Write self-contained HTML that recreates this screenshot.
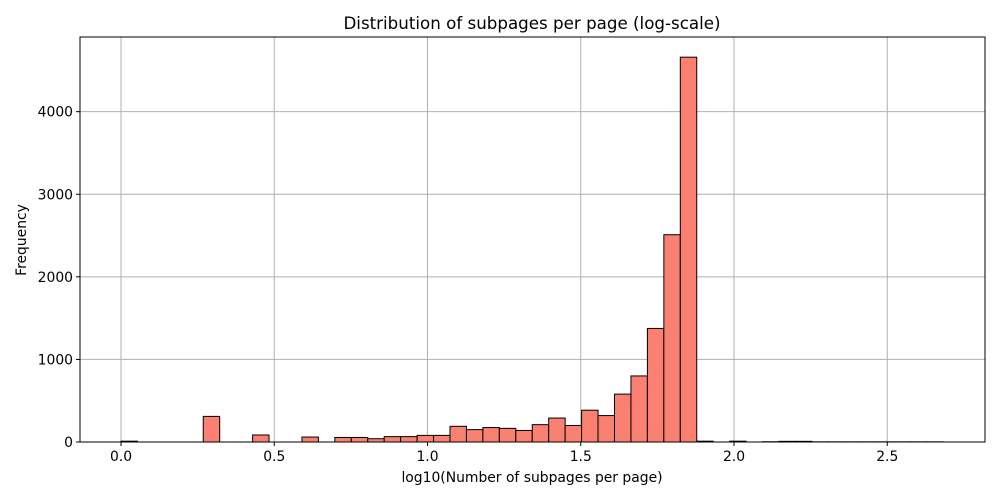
<!DOCTYPE html>
<html><head><meta charset="utf-8"><style>
body{margin:0;background:#fff;font-family:"DejaVu Sans","Liberation Sans",sans-serif}
text{font-family:"DejaVu Sans","Liberation Sans",sans-serif}
</style></head><body>
<svg id="chart" width="1000" height="500" xmlns="http://www.w3.org/2000/svg">
<g id="grid"></g><g id="bars"></g><g id="axes"></g>
</svg>
<script>
const binStart = 0;
const binWidth = 0.05367;
const counts = [10,0,0,0,0,310,0,0,85,0,0,60,0,55,55,40,65,65,80,80,190,150,175,165,140,210,290,200,385,320,580,800,1375,2510,4660,10,0,10,0,3,8,8,2,2,2,2,2,2,2,2];
const xTicks = [0,0.5,1.0,1.5,2.0,2.5];
const xTickLabels = ["0.0","0.5","1.0","1.5","2.0","2.5"];
const yTicks = [0,1000,2000,3000,4000];
const yTickLabels = ["0","1000","2000","3000","4000"];
const ns="http://www.w3.org/2000/svg";
const L=80,R=985,T=37,B=442;
const X=v=>121+v*306.5;
const Y=v=>442-v*0.08258;
function mk(tag,attrs,parent,text){const e=document.createElementNS(ns,tag);for(const k in attrs)e.setAttribute(k,attrs[k]);if(text!==undefined)e.textContent=text;document.getElementById(parent).appendChild(e);return e;}
xTicks.forEach((t,i)=>{
 const g=mk('line',{x1:X(t),x2:X(t),y1:T,y2:B,stroke:'#b0b0b0','stroke-width':1},'grid');
 
 
 const tk=mk('line',{x1:X(t),x2:X(t),y1:B,y2:B+4,stroke:'#000'},'axes');
 
 
 const lb=mk('text',{x:X(t),y:B+19,'text-anchor':'middle','font-size':13.9},'axes',xTickLabels[i]);
 
 
});
yTicks.forEach((t,i)=>{
 const g=mk('line',{x1:L,x2:R,y1:Y(t),y2:Y(t),stroke:'#b0b0b0','stroke-width':1},'grid');
 
 
 const tk=mk('line',{x1:L-4,x2:L,y1:Y(t),y2:Y(t),stroke:'#000'},'axes');
 
 
 const lb=mk('text',{x:L-7,y:Y(t)+5,'text-anchor':'end','font-size':13.9},'axes',yTickLabels[i]);
 
 
});
counts.forEach((c,i)=>{
 const x0=X(binStart+i*binWidth),x1=X(binStart+(i+1)*binWidth);
 const r=mk('rect',{x:x0,y:Y(c),width:x1-x0,height:B-Y(c),fill:'#fa8072',stroke:'#000','stroke-width':1},'bars');
 
 
});
const fr=mk('rect',{x:L,y:T,width:R-L,height:B-T,fill:'none',stroke:'#000','stroke-width':1},'axes');


const ti=mk('text',{x:532,y:29,'text-anchor':'middle','font-size':16.7},'axes','Distribution of subpages per page (log-scale)');


const xl=mk('text',{x:532,y:482,'text-anchor':'middle','font-size':13.9},'axes','log10(Number of subpages per page)');


const yl=mk('text',{x:26,y:240,'text-anchor':'middle','font-size':13.9,transform:'rotate(-90 26 240)'},'axes','Frequency');


</script>
</body></html>
